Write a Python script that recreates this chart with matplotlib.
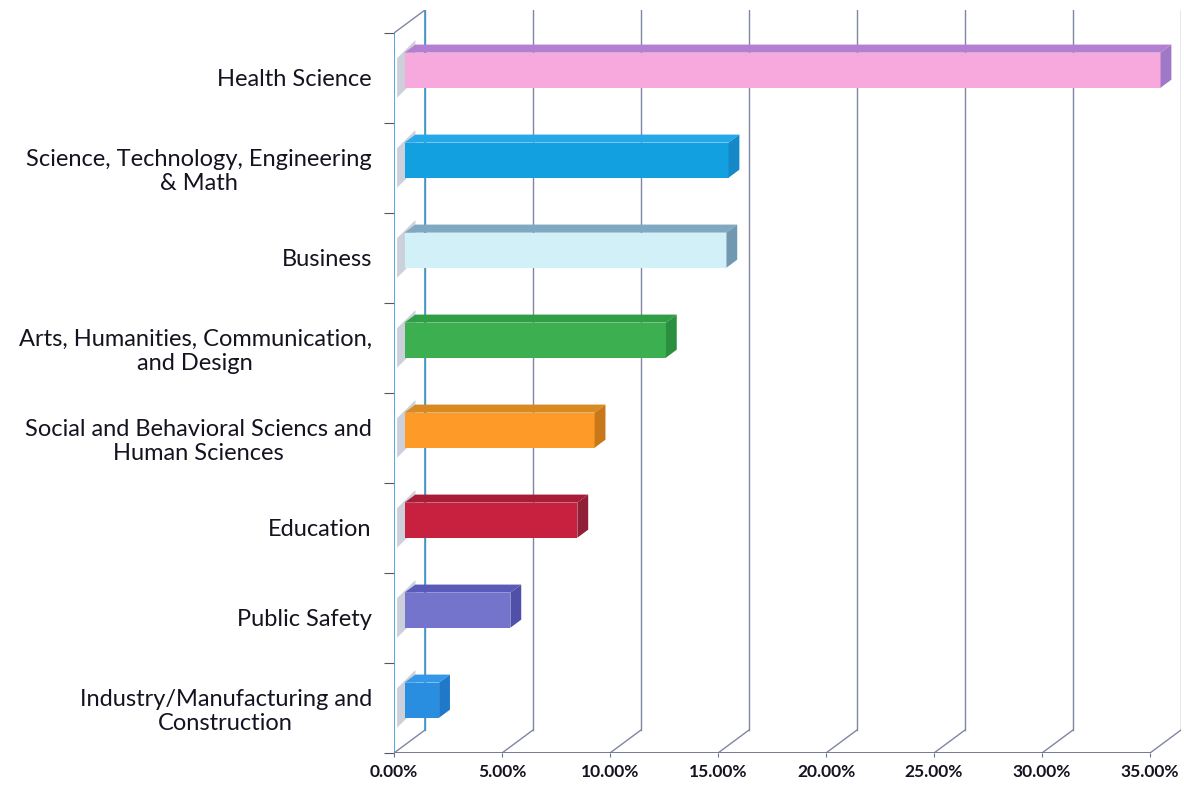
import matplotlib
matplotlib.use("Agg")
import matplotlib.pyplot as plt
from matplotlib.patches import Polygon

# data, bottom to top
categories = [
    "Industry/Manufacturing and\nConstruction",
    "Public Safety",
    "Education",
    "Social and Behavioral Sciencs and\nHuman Sciences",
    "Arts, Humanities, Communication,\nand Design",
    "Business",
    "Science, Technology, Engineering\n& Math",
    "Health Science",
]
shares = [1.6, 4.9, 8.0, 8.8, 12.1, 14.9, 15.0, 35.0]
ticks = [0, 5, 10, 15, 20, 25, 30, 35]
tick_labels = ["0.00%", "5.00%", "10.00%", "15.00%", "20.00%", "25.00%", "30.00%", "35.00%"]

front_colors = ["#2a8ee0", "#7474cc", "#c8203f", "#fd9a28", "#3cb050", "#d2f0f8", "#12a0e0", "#f7a8dc"]
top_colors = ["#3498e8", "#5a5ab8", "#a81c38", "#d88a20", "#2f9e45", "#80a8c0", "#26a8e8", "#b47fd0"]
side_colors = ["#2078c8", "#5050a8", "#902038", "#c87818", "#2a9040", "#7098b0", "#1588c8", "#9f78c8"]

# fake depth of the 3d box, in data units
DX = 31 / 21.6
DY = 23 / 90.0
f0, f1 = 0.34, 0.69
bar_h = 0.39

plt.rcParams["font.family"] = ["Lato", "DejaVu Sans"]
fig = plt.figure(figsize=(11.84, 7.85), dpi=100)
ax = fig.add_axes([394 / 1184, 32 / 785, 787 / 1184, 743 / 785])
ax.set_xlim(0, 35 + DX)
ax.set_ylim(-0.5, len(categories) - 0.5 + DY)
for s in ax.spines.values():
    s.set_visible(False)

grid_c = "#7f86a2"
wall_c = "#3a9ad0"
top_y = len(categories) - 0.5

# back wall gridlines and floor diagonals
for t in ticks:
    ax.plot([t + DX, t + DX], [-0.5 + DY, top_y + DY], color=grid_c, lw=1, zorder=1)
    ax.plot([t, t + DX], [-0.5, -0.5 + DY], color=grid_c, lw=1, zorder=1)
ax.plot([0, 35], [-0.5, -0.5], color="#6a7090", lw=1.3, zorder=2)

# left wall
ax.plot([0, 0], [-0.5, top_y], color=wall_c, lw=1.2, zorder=2)
ax.plot([DX, DX], [-0.5 + DY, top_y + DY], color=wall_c, lw=1.2, zorder=1)
ax.plot([0, DX], [top_y, top_y + DY], color=grid_c, lw=1, zorder=2)

ys = list(range(len(categories)))
for y in ys:
    yb = y - bar_h / 2
    yt = y + bar_h / 2
    shadow = Polygon([(0.1 * DX, yb + 0.1 * DY - 0.05), (f1 * DX, yb + f1 * DY),
                      (f1 * DX, yt + f1 * DY + 0.05), (0.1 * DX, yt + 0.1 * DY)],
                     closed=True, fc="#aab2c4", ec="none", alpha=0.6, zorder=2)
    ax.add_patch(shadow)

# bars: front face from barh, top and side faces as polygons
ax.barh([y + f0 * DY for y in ys], shares, left=f0 * DX, height=bar_h,
        color=front_colors, edgecolor="none", zorder=4)
for y, v, tc, sc in zip(ys, shares, top_colors, side_colors):
    x0 = f0 * DX
    x1 = v + f0 * DX
    yb = y + f0 * DY - bar_h / 2
    yt = y + f0 * DY + bar_h / 2
    ddx = (f1 - f0) * DX
    ddy = (f1 - f0) * DY
    ax.add_patch(Polygon([(x0, yt), (x0 + ddx, yt + ddy), (x1 + ddx, yt + ddy), (x1, yt)],
                         closed=True, fc=tc, ec="none", zorder=4))
    ax.add_patch(Polygon([(x1, yb), (x1, yt), (x1 + ddx, yt + ddy), (x1 + ddx, yb + ddy)],
                         closed=True, fc=sc, ec="none", zorder=4))

ax.set_xticks(ticks)
ax.set_xticklabels(tick_labels, fontsize=12.5, fontweight="bold", color="#141420")
ax.tick_params(axis="x", length=3, color="#6a7090", pad=5)

ax.set_yticks([y - 0.5 for y in ys] + [top_y])
ax.set_yticklabels([])
ax.tick_params(axis="y", which="major", length=7, color="#555566")
ax.set_yticks(ys, minor=True)
ax.set_yticklabels(categories, minor=True, fontsize=17, color="#141420",
                   multialignment="center")
ax.tick_params(axis="y", which="minor", length=0, pad=16)

fig.savefig("out.png", dpi=100)
